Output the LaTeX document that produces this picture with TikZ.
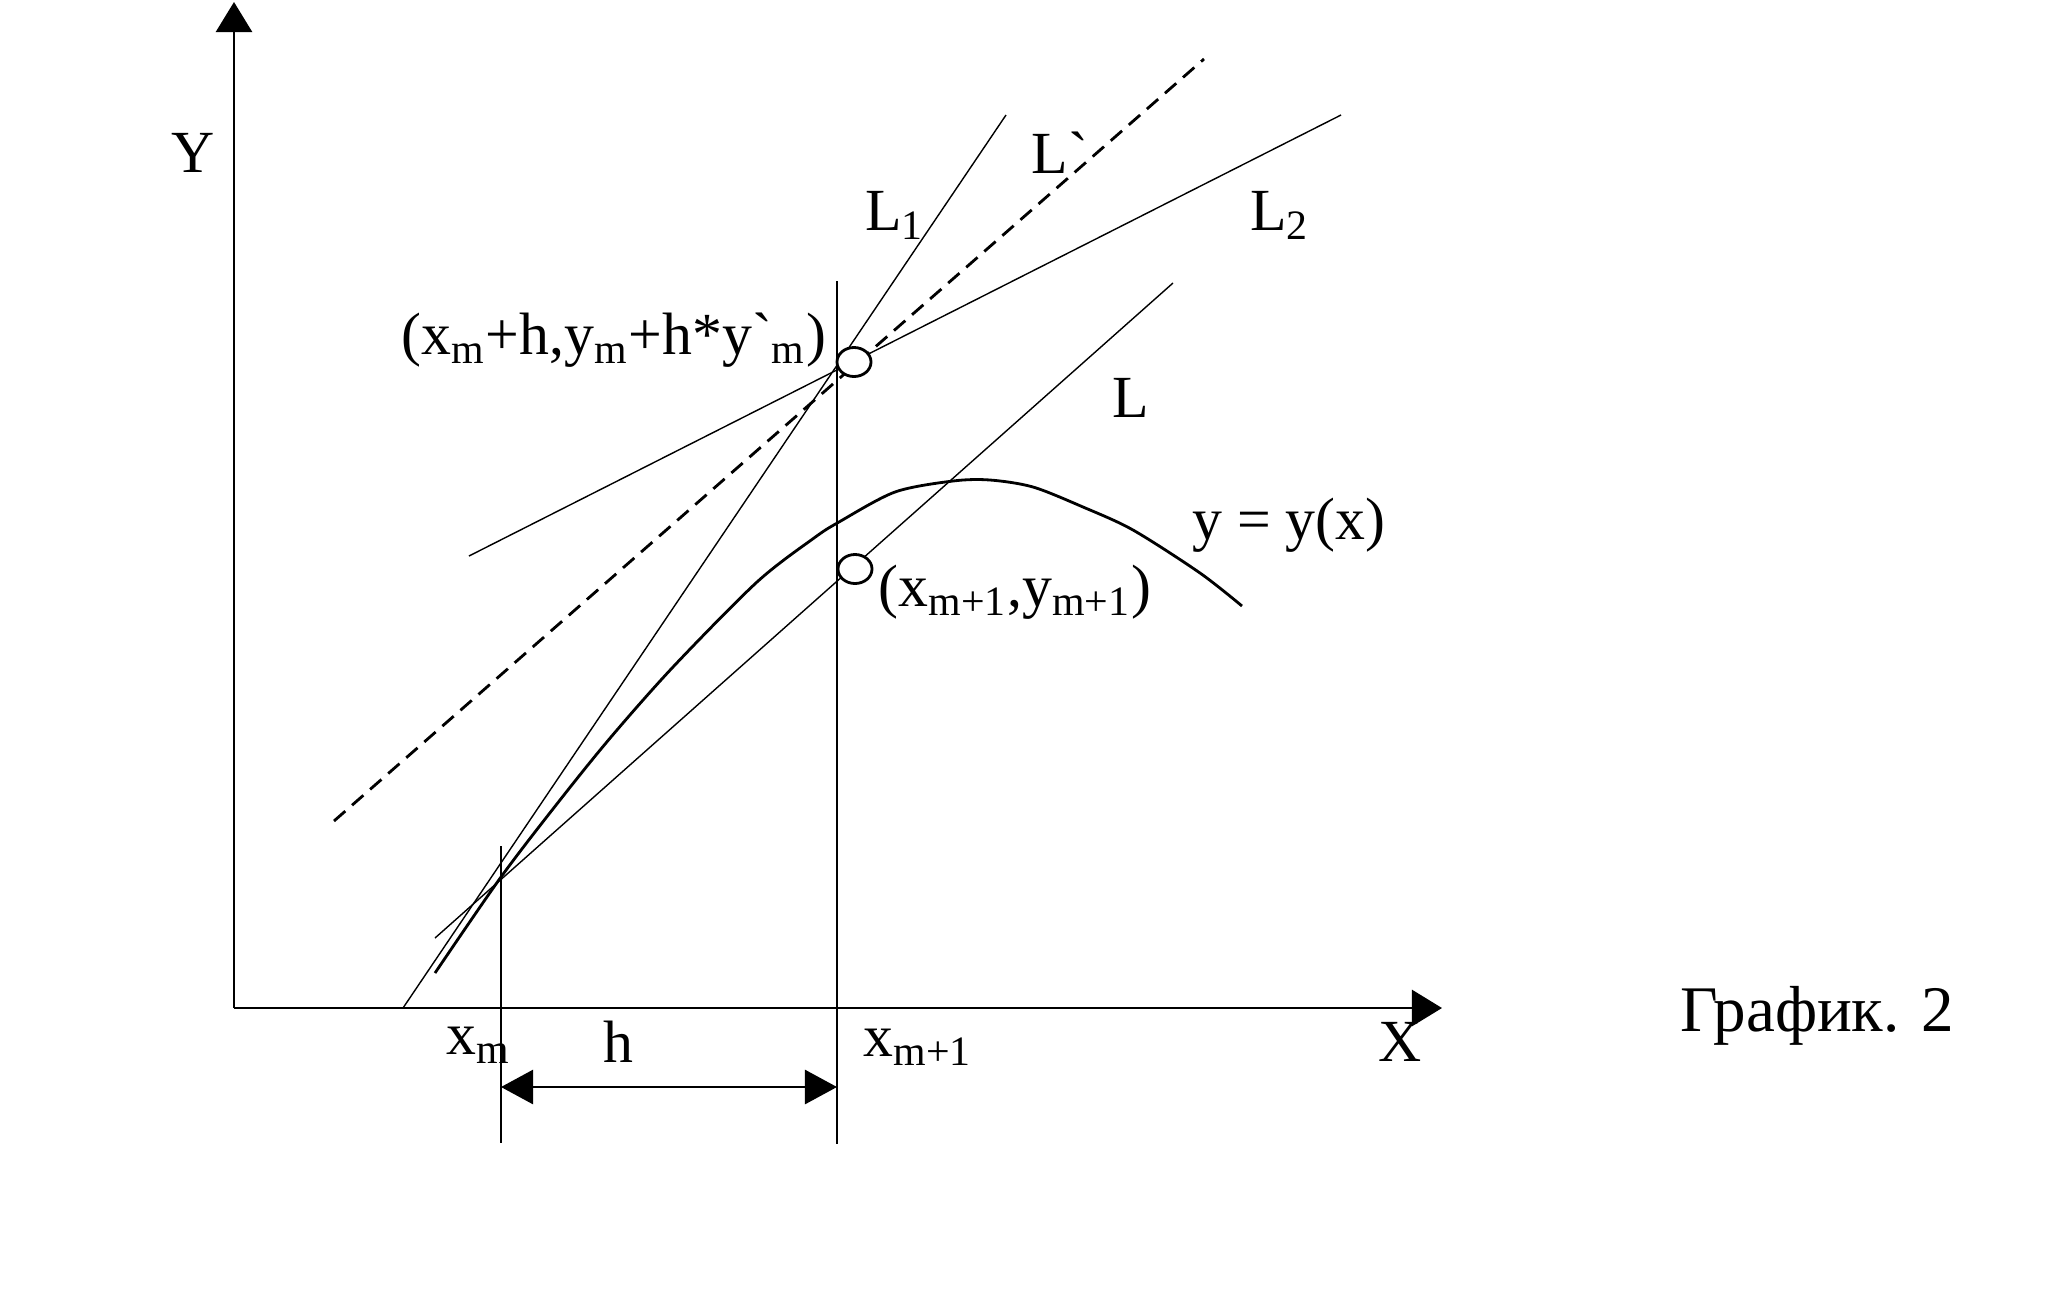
\documentclass[tikz,border=0pt]{standalone}
\usepackage{fontspec}
\setmainfont{Liberation Serif}[Ligatures=TeXOff]
\usetikzlibrary{arrows.meta,shapes.geometric}

\tikzset{
    lbl/.style={inner sep=0pt,font=\fontsize{17}{20}\selectfont},
    axis/.style={line width=0.75pt,-{Triangle[length=0.3cm,width=0.36cm]}},
    thin line/.style={line width=0.4pt},
    pt/.style={ellipse,draw,fill=white,line width=0.8pt,minimum width=0.34cm,minimum height=0.29cm,inner sep=0pt}
}

\begin{document}
\begin{tikzpicture}[x=0.01cm,y=-0.01cm]
\useasboundingbox (0,0) rectangle (2048,1305);
% axes
\coordinate (O) at (234,1008);
\coordinate (ytip) at (234,2);
\coordinate (xtip) at (1442,1008);
\draw[axis] (O)--(ytip);
\draw[axis] (O)--(xtip);
\node[lbl] (ylab) at (193,153) {Y};
\node[lbl] (xlab) at (1400,1042) {X};

% points on the grid lines
\coordinate (A) at (501,879);
\coordinate (B) at (837,370);
\coordinate (C) at (837,581);
\draw[line width=0.75pt] (501,846) coordinate (xmtop)--(501,1143) coordinate (xmbot);
\draw[line width=0.75pt] (837,281) coordinate (xntop)--(837,1144) coordinate (xnbot);

% lines L1, L2, L`, L
\draw[thin line] (403,1008) coordinate (L1a)--(1006,115) coordinate (L1b);
\draw[thin line] (469,556) coordinate (L2a)--(1341,115) coordinate (L2b);
\draw[line width=0.8pt,dash pattern=on 0.15cm off 0.09cm] (334,821) coordinate (Lda)--(1204,59) coordinate (Ldb);
\draw[thin line] (435,938) coordinate (La)--(1173,283) coordinate (Lb);

% y = y(x)
\draw[line width=0.8pt] plot[smooth,tension=0.5] coordinates {(435,973) (501,877) (560,800) (611,737) (673,667) (757,582) (814,538) (839,522) (895,492) (953,481) (990,480) (1033,487) (1083,507) (1133,530) (1200,573) (1242,606)};

\node[pt] (Bc) at (854,362) {};
\node[pt] (Cc) at (855,569) {};

% step h
\coordinate (h1) at (501,1087);
\coordinate (h2) at (837,1087);
\draw[line width=0.75pt,{Triangle[length=0.32cm,width=0.34cm]}-{Triangle[length=0.32cm,width=0.34cm]}] (h1)--(h2);

\node[lbl] (xm) at (479,1045) {x\textsubscript{m}};
\node[lbl] (hlab) at (618,1042) {h};
\node[lbl] (xn) at (918,1047) {x\textsubscript{m+1}};
\node[lbl,font=\fontsize{18.5}{22}\selectfont] (cap) at (1817,1016) {График. 2};

\node[lbl] (L1lab) at (895,215) {L\textsubscript{1}};
\node[lbl] (Ldlab) at (1060,153) {L`};
\node[lbl] (L2lab) at (1280,215) {L\textsubscript{2}};
\node[lbl] (Llab) at (1131,398) {L};
\node[lbl] (ylabel) at (1289,525) {y = y(x)};
\node[lbl] (Clab) at (1015,592) {(x\textsubscript{m+1},y\textsubscript{m+1})};
\node[lbl] (Blab) at (614,340) {(x\textsubscript{m}+h,y\textsubscript{m}+h*y`\textsubscript{m})};
\end{tikzpicture}
\end{document}
